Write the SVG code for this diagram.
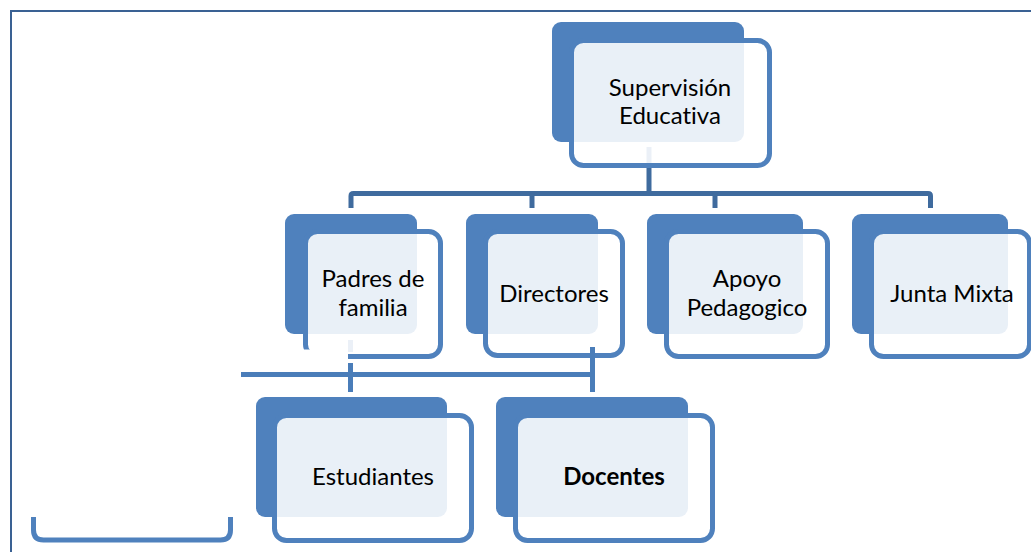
<svg xmlns="http://www.w3.org/2000/svg" width="1031" height="552" viewBox="0 0 1031 552">
<style>
.back{fill:#4F81BD}
.front{fill:#fff;fill-opacity:0.88;stroke:#4F81BD;stroke-width:5}
.t{font-family:Lato,"Liberation Sans",sans-serif;font-size:24px;fill:#000;text-anchor:middle;font-variant-ligatures:none}
.b{font-weight:bold}
.c1{stroke:#3F6B9E;stroke-width:5;fill:none}
.c2{stroke:#4A7DB9;stroke-width:5;fill:none}
.lt{stroke:#EBF0F7;stroke-width:5;fill:none}
</style>
<g id="page">
<path d="M11 552 V11 H1031" fill="none" stroke="#3A6193" stroke-width="2"/>
<path d="M33.5 517 V530 Q33.5 540 43.5 540 H220.5 Q230.5 540 230.5 530 V517" fill="none" stroke="#4F81BD" stroke-width="5"/>
</g>
<g id="n-supervision">
<rect class="back" x="552" y="22" width="192" height="120" rx="9"/>
<rect class="front" x="571.5" y="40.5" width="198" height="125" rx="12"/>
<text class="t" x="670" y="96">Supervisión</text>
<text class="t" x="670" y="124">Educativa</text>
</g>
<g id="n-padres">
<rect class="back" x="285" y="214" width="132" height="120" rx="9"/>
<rect class="front" x="305.5" y="231.5" width="135" height="125" rx="12"/>
<rect x="298" y="349.5" width="50" height="14" fill="#fff"/>
<text class="t" x="373" y="287">Padres de</text>
<text class="t" x="373" y="316">familia</text>
</g>
<g id="n-directores">
<rect class="back" x="466" y="214" width="132" height="120" rx="9"/>
<rect class="front" x="485.5" y="231.5" width="137" height="124" rx="12"/>
<text class="t" x="554" y="302">Directores</text>
</g>
<g id="n-apoyo">
<rect class="back" x="647" y="214" width="156" height="120" rx="9"/>
<rect class="front" x="666.5" y="231.5" width="161" height="125" rx="12"/>
<text class="t" x="747" y="287">Apoyo</text>
<text class="t" x="747" y="316">Pedagogico</text>
</g>
<g id="n-junta">
<rect class="back" x="852" y="214" width="156" height="120" rx="9"/>
<rect class="front" x="871.5" y="231.5" width="158" height="125" rx="12"/>
<text class="t" x="952" y="302">Junta Mixta</text>
</g>
<g id="n-estudiantes">
<rect class="back" x="256" y="397" width="191" height="120" rx="9"/>
<rect class="front" x="274.5" y="415.5" width="197" height="125" rx="12"/>
<text class="t" x="373" y="485">Estudiantes</text>
</g>
<g id="n-docentes">
<rect class="back" x="496" y="397" width="192" height="120" rx="9"/>
<rect class="front" x="515.5" y="415.5" width="197" height="125" rx="12"/>
<text class="t b" x="614" y="485">Docentes</text>
</g>
<g id="connectors">
<line class="lt" x1="649" y1="147" x2="649" y2="163"/>
<line class="c1" x1="649" y1="168" x2="649" y2="194"/>
<path class="c1" d="M351 208 V196 Q351 193.5 353.5 193.5 H928 Q930.5 193.5 930.5 196 V208"/>
<line class="c1" x1="532" y1="193.5" x2="532" y2="208"/>
<line class="c1" x1="715" y1="193.5" x2="715" y2="208"/>
<line class="lt" x1="350.5" y1="340" x2="350.5" y2="352"/>
<line class="c2" x1="350.5" y1="363" x2="350.5" y2="392"/>
<line class="c2" x1="241" y1="374.5" x2="593" y2="374.5"/>
<line class="c2" x1="592.5" y1="347" x2="592.5" y2="392"/>
</g>
</svg>
